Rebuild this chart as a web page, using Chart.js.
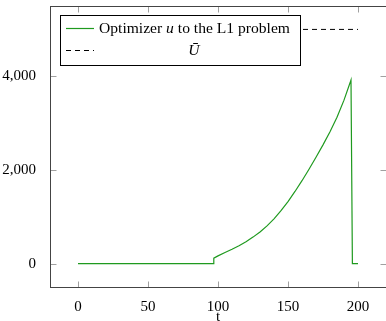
<!DOCTYPE html>
<html>
<head>
<meta charset="utf-8">
<script src="https://cdn.jsdelivr.net/npm/chart.js@4/dist/chart.umd.min.js"></script>
<style>
  html, body { margin: 0; padding: 0; background: #fff; overflow: hidden; }
  #wrap { width: 386px; height: 321px; position: relative; }
</style>
</head>
<body>
<div id="wrap"><canvas id="chart"></canvas></div>
<script>
// t values and optimizer u
const tValues = [0, 50, 96.5, 97, 100, 105, 110, 115, 120, 125, 130, 135, 140, 145, 150, 155, 160, 165, 170, 175, 180, 185, 190, 195, 196, 200];
const uValues = [0, 0, 0, 115, 165, 235, 305, 380, 465, 565, 675, 805, 955, 1130, 1325, 1540, 1770, 2015, 2270, 2535, 2815, 3125, 3490, 3920, 0, 0];

// U bar (dashed, mostly hidden behind the legend)
const uBarT = [0, 200];
const uBarValues = [5000, 5000];

const xTicks = [0, 50, 100, 150, 200];
const yTicks = [0, 2000, 4000];

const serif = "'Liberation Serif', 'DejaVu Serif', serif";
const green = '#1f9a1f';

// pgfplots-like frame, inward ticks and boxed legend
const framePlugin = {
  id: 'frame',
  afterDatasetsDraw(chart) {
    const { ctx, chartArea: a, scales } = chart;
    const L = Math.round(a.left) + 0.5, R = Math.round(a.right) + 0.5;
    const T = Math.round(a.top) + 0.5, B = Math.round(a.bottom) + 0.5;
    ctx.save();
    ctx.strokeStyle = '#a0a0a0';
    ctx.lineWidth = 1;
    ctx.beginPath();
    scales.x.ticks.forEach(tk => {
      const x = Math.round(scales.x.getPixelForValue(tk.value)) + 0.5;
      ctx.moveTo(x, B); ctx.lineTo(x, B - 6);
      ctx.moveTo(x, T); ctx.lineTo(x, T + 6);
    });
    scales.y.ticks.forEach(tk => {
      const y = Math.round(scales.y.getPixelForValue(tk.value)) + 0.5;
      ctx.moveTo(L, y); ctx.lineTo(L + 6, y);
      ctx.moveTo(R, y); ctx.lineTo(R - 6, y);
    });
    ctx.stroke();

    ctx.strokeStyle = '#444';
    ctx.strokeRect(L, T, R - L, B - T);

    // legend box
    const bx = 60.5, by = 15.5, bw = 240, bh = 50;
    ctx.fillStyle = '#fff';
    ctx.fillRect(bx, by, bw, bh);
    ctx.strokeStyle = '#000';
    ctx.strokeRect(bx, by, bw, bh);

    ctx.lineWidth = 1.2;
    ctx.strokeStyle = green;
    ctx.beginPath(); ctx.moveTo(66, 28.5); ctx.lineTo(94, 28.5); ctx.stroke();
    ctx.strokeStyle = '#000';
    ctx.setLineDash([5, 4]);
    ctx.beginPath(); ctx.moveTo(66, 50.5); ctx.lineTo(94, 50.5); ctx.stroke();
    ctx.setLineDash([]);

    ctx.fillStyle = '#000';
    ctx.textBaseline = 'middle';
    ctx.textAlign = 'left';
    const parts = [
      ['Optimizer ', '15.6px ' + serif],
      ['u', 'italic 15.6px ' + serif],
      [' to the L1 problem', '15.6px ' + serif]
    ];
    let x = 99;
    parts.forEach(([txt, font]) => {
      ctx.font = font;
      ctx.fillText(txt, x, 29);
      x += ctx.measureText(txt).width;
    });
    ctx.font = 'italic 15.6px ' + serif;
    ctx.textAlign = 'center';
    ctx.fillText('\u016A', 194, 51);
    ctx.restore();
  }
};

new Chart(document.getElementById('chart'), {
  type: 'line',
  data: {
    datasets: [
      {
        label: 'Optimizer u to the L1 problem',
        data: tValues.map((t, i) => ({ x: t, y: uValues[i] })),
        borderColor: green,
        borderWidth: 1.2,
        pointRadius: 0,
        tension: 0
      },
      {
        label: 'U bar',
        data: uBarT.map((t, i) => ({ x: t, y: uBarValues[i] })),
        borderColor: '#000',
        borderWidth: 1,
        borderDash: [5, 4],
        pointRadius: 0,
        tension: 0
      }
    ]
  },
  options: {
    responsive: true,
    maintainAspectRatio: false,
    animation: false,
    layout: { padding: { top: 6, left: 0, right: 0, bottom: 0 } },
    plugins: { legend: { display: false }, tooltip: { enabled: false } },
    scales: {
      x: {
        type: 'linear',
        min: -20,
        max: 220,
        grid: { display: false },
        border: { display: false },
        afterBuildTicks: s => { s.ticks = xTicks.map(v => ({ value: v })); },
        afterFit: s => { s.height = 34; s.paddingLeft = 0; s.paddingRight = 0; },
        ticks: { color: '#000', font: { family: serif, size: 15 }, padding: 3, maxRotation: 0 },
        title: { display: true, text: 't', color: '#000', font: { family: serif, size: 15, lineHeight: 0.5 }, padding: { top: 0, bottom: 0 } }
      },
      y: {
        min: -500,
        max: 5500,
        grid: { display: false },
        border: { display: false },
        afterBuildTicks: s => { s.ticks = yTicks.map(v => ({ value: v })); },
        afterFit: s => { s.width = 50; s.paddingTop = 0; s.paddingBottom = 0; },
        ticks: {
          color: '#000',
          font: { family: serif, size: 15 },
          padding: 6,
          callback: v => v.toLocaleString('en-US')
        }
      }
    }
  },
  plugins: [framePlugin]
});
</script>
</body>
</html>
